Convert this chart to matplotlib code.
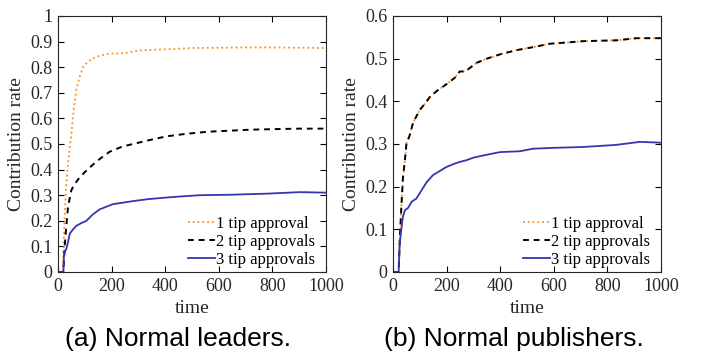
import matplotlib
matplotlib.use("Agg")
import matplotlib.pyplot as plt

# (a) Normal leaders
t_a1 = [0, 18, 20, 25, 30, 37, 44, 50, 58, 68, 80, 93, 110, 130, 156, 193, 250, 300, 350, 400, 450, 500, 600, 700, 800, 900, 1000]
y_a1 = [0, 0, 0.07, 0.22, 0.33, 0.42, 0.49, 0.54, 0.63, 0.71, 0.76, 0.80, 0.82, 0.835, 0.845, 0.853, 0.855, 0.865, 0.868, 0.87, 0.872, 0.875, 0.876, 0.877, 0.877, 0.876, 0.875]

t_a2 = [0, 18, 20, 25, 31, 37, 44, 50, 60, 81, 105, 131, 160, 193, 240, 280, 340, 405, 480, 560, 640, 720, 800, 900, 1000]
y_a2 = [0, 0, 0.0, 0.10, 0.18, 0.25, 0.29, 0.32, 0.34, 0.37, 0.395, 0.42, 0.445, 0.47, 0.49, 0.50, 0.515, 0.53, 0.54, 0.548, 0.552, 0.556, 0.558, 0.560, 0.560]

t_a3 = [0, 20, 22, 26, 31, 38, 44, 55, 68, 85, 106, 130, 156, 205, 250, 280, 340, 405, 470, 530, 650, 778, 903, 1000]
y_a3 = [0, 0, 0.06, 0.08, 0.09, 0.12, 0.15, 0.165, 0.18, 0.19, 0.20, 0.225, 0.245, 0.265, 0.272, 0.277, 0.285, 0.291, 0.296, 0.30, 0.302, 0.306, 0.312, 0.31]

# (b) Normal publishers
t_b1 = [0, 20, 21, 25, 31, 37, 44, 50, 62, 75, 100, 120, 137, 165, 199, 230, 249, 270, 311, 350, 399, 430, 461, 523, 585, 650, 710, 770, 834, 909, 1000]
y_b1 = [0, 0, 0.0, 0.074, 0.15, 0.22, 0.26, 0.30, 0.32, 0.35, 0.38, 0.395, 0.41, 0.425, 0.44, 0.455, 0.47, 0.47, 0.49, 0.50, 0.51, 0.515, 0.52, 0.527, 0.535, 0.538, 0.541, 0.542, 0.543, 0.548, 0.548]
t_b2 = t_b1
y_b2 = y_b1

t_b3 = [0, 20, 21, 25, 31, 37, 45, 56, 70, 87, 105, 125, 149, 199, 230, 249, 274, 300, 336, 399, 473, 523, 600, 710, 834, 921, 1000]
y_b3 = [0, 0, 0.0, 0.066, 0.10, 0.13, 0.145, 0.15, 0.165, 0.172, 0.19, 0.21, 0.227, 0.246, 0.254, 0.258, 0.262, 0.268, 0.273, 0.281, 0.283, 0.289, 0.291, 0.293, 0.298, 0.305, 0.303]

labels = ["1 tip approval", "2 tip approvals", "3 tip approvals"]
captions = ["(a) Normal leaders.", "(b) Normal publishers."]

orange = "#FF8C1A"
blue = "#3535B0"
serif = "Liberation Serif"
txt = "#262626"

fig = plt.figure(figsize=(7.01, 3.54), dpi=100)
ax_a = fig.add_axes([58 / 701, 1 - 272 / 354, 268 / 701, 256 / 354])
ax_b = fig.add_axes([393 / 701, 1 - 272 / 354, 268 / 701, 256 / 354])

panels = [
    (ax_a, [(t_a1, y_a1), (t_a2, y_a2), (t_a3, y_a3)], 1.0, [0, 0.1, 0.2, 0.3, 0.4, 0.5, 0.6, 0.7, 0.8, 0.9, 1]),
    (ax_b, [(t_b1, y_b1), (t_b2, y_b2), (t_b3, y_b3)], 0.6, [0, 0.1, 0.2, 0.3, 0.4, 0.5, 0.6]),
]

for ax, series, ymax, yticks in panels:
    (x1, v1), (x2, v2), (x3, v3) = series
    ax.plot(x1, v1, color=orange, ls=":", lw=1.3, label=labels[0])
    ax.plot(x2, v2, color="black", ls=(0, (3, 2.5)), lw=1.4, label=labels[1])
    ax.plot(x3, v3, color=blue, ls="-", lw=1.3, label=labels[2])
    ax.set_xlim(0, 1000)
    ax.set_ylim(0, ymax)
    ax.set_xticks([0, 200, 400, 600, 800, 1000])
    ax.set_yticks(yticks)
    ax.set_yticklabels([f"{v:g}" for v in yticks])
    ax.tick_params(direction="in", top=True, right=True, length=4, width=0.8,
                   labelsize=13, labelcolor=txt, pad=4)
    for lab in ax.get_xticklabels() + ax.get_yticklabels():
        lab.set_fontfamily(serif)
    for s in ax.spines.values():
        s.set_linewidth(0.8)
        s.set_color("#262626")
    ax.set_xlabel("time", family=serif, fontsize=14, color=txt, labelpad=4)
    ax.set_ylabel("Contribution rate", family=serif, fontsize=14, color=txt, labelpad=4)
    ax.legend(loc="lower right", bbox_to_anchor=(0.97, 0.005), frameon=False,
              prop={"family": serif, "size": 12},
              handlelength=1.6, handletextpad=0.1, labelspacing=0.12,
              borderaxespad=0.0, borderpad=0.15)

fig.text(178 / 701, 1 - 339 / 354, captions[0], ha="center", va="center",
         family="Liberation Sans", fontsize=19)
fig.text(514 / 701, 1 - 339 / 354, captions[1], ha="center", va="center",
         family="Liberation Sans", fontsize=19)

fig.savefig("out.png", dpi=100)
